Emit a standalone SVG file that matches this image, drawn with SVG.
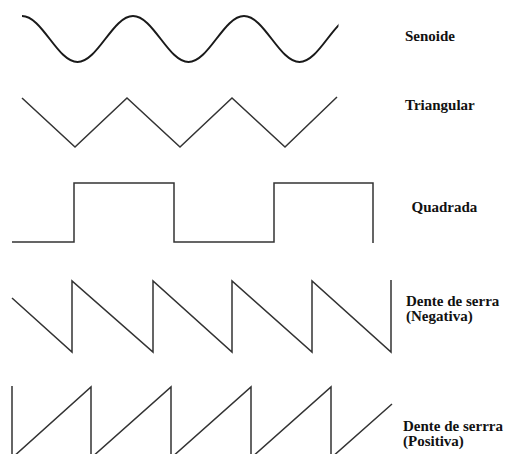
<svg xmlns="http://www.w3.org/2000/svg" width="507" height="454" viewBox="0 0 507 454">
  <style>
    .wave { fill: none; stroke: #333; stroke-width: 1.5; stroke-linejoin: miter; }
    .sine { stroke: #1a1a1a; stroke-width: 2; }
    .lbl { font-family: 'Liberation Serif', 'DejaVu Serif', serif; font-weight: 700; font-size: 15px; fill: #111; }
  </style>
  <defs>
    <clipPath id="sineClip"><rect x="0" y="0" width="338.5" height="80"/></clipPath>
  </defs>
  <rect width="507" height="454" fill="#fff"/>
  <g id="senoide">
    <path class="wave sine" clip-path="url(#sineClip)" d="M22,16 C42.2,16 57.3,62 77.5,62 S112.8,16 133,16 S168.3,62 188.5,62 S223.8,16 244,16 S279.3,62 299.5,62 S334.8,16 355,16"/>
    <text class="lbl" x="405" y="40.5">Senoide</text>
  </g>
  <g id="triangular">
    <polyline class="wave" points="22,98 75,147 127,98 180,147 232,98 285,147 337,97"/>
    <text class="lbl" x="405" y="110">Triangular</text>
  </g>
  <g id="quadrada">
    <polyline class="wave" points="12,242 74,242 74,183 174,183 174,242 274,242 274,183 373,183 373,243"/>
    <text class="lbl" x="411.5" y="212">Quadrada</text>
  </g>
  <g id="serra-negativa">
    <polyline class="wave" points="12,298 72,352 72,281 153,352 153,281 232,352 232,281 312,352 312,281 391,352 391,280"/>
    <text class="lbl" x="406" y="306">Dente de serra</text>
    <text class="lbl" x="406" y="321">(Negativa)</text>
  </g>
  <g id="serra-positiva">
    <polyline class="wave" points="12,386 12,458 91,387 91,458 171,387 171,458 251,387 251,458 331,387 331,458 392,404"/>
    <text class="lbl" x="403" y="431">Dente de serrra</text>
    <text class="lbl" x="403" y="446">(Positiva)</text>
  </g>
</svg>
